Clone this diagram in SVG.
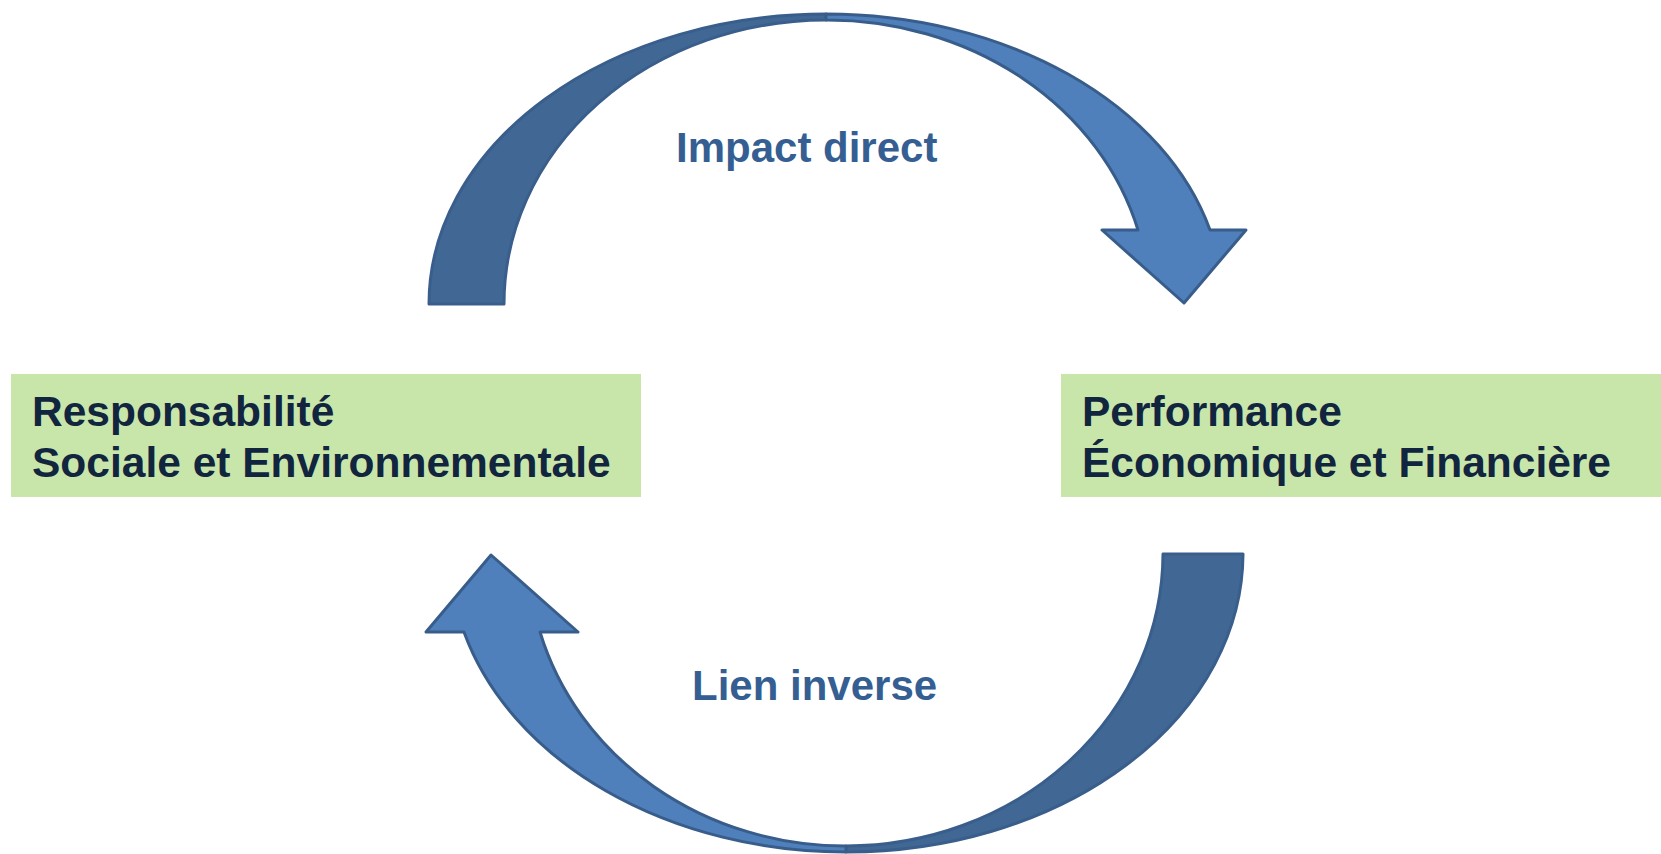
<svg xmlns="http://www.w3.org/2000/svg" width="1661" height="854" viewBox="0 0 1661 854">
  <style>
    .box { fill: #C9E6AA; }
    .boxtext { font-family: "Liberation Sans", Arial, sans-serif; font-weight: bold; font-size: 42.5px; fill: #12253F; }
    .label { font-family: "Liberation Sans", Arial, sans-serif; font-weight: bold; font-size: 42px; fill: #355F92; }
    .back { fill: #416895; stroke: #3A5E8C; stroke-width: 3; stroke-linejoin: round; }
    .front { fill: #4F80BC; stroke: #385D8A; stroke-width: 3; stroke-linejoin: round; }
  </style>
  <rect width="1661" height="854" fill="#FFFFFF"/>

  <!-- curved arrows between the two nodes -->
  <g id="connectors">
    <!-- upper arrow: left node to right node -->
    <g id="arrow-impact">
      <path class="back" d="M 429 304 A 397 290 0 0 1 826 14 L 826 20 A 322 284 0 0 0 504 304 Z"/>
      <path class="front" d="M 826 14 A 397 290 0 0 1 1210 230 L 1246 230 L 1184 303 L 1102 230 L 1138 230 A 322 284 0 0 0 826 20 Z"/>
    </g>
    <!-- lower arrow: right node back to left node -->
    <g id="arrow-inverse">
      <path class="back" d="M 1243 554 A 396 299 0 0 1 846 852 L 846 846 A 317 293 0 0 0 1163 554 Z"/>
      <path class="front" d="M 846 852 A 396 299 0 0 1 464 632 L 426 632 L 491 555 L 578 632 L 540 632 A 317 293 0 0 0 846 846 Z"/>
    </g>
    <text class="label" x="676" y="162">Impact direct</text>
    <text class="label" x="692" y="700">Lien inverse</text>
  </g>

  <g id="node-rse">
    <rect class="box" x="11" y="374" width="630" height="123"/>
    <text class="boxtext" x="32" y="426">Responsabilité</text>
    <text class="boxtext" x="32" y="477">Sociale et Environnementale</text>
  </g>

  <g id="node-performance">
    <rect class="box" x="1061" y="374" width="600" height="123"/>
    <text class="boxtext" x="1082" y="426">Performance</text>
    <text class="boxtext" x="1082" y="477">Économique et Financière</text>
  </g>
</svg>
